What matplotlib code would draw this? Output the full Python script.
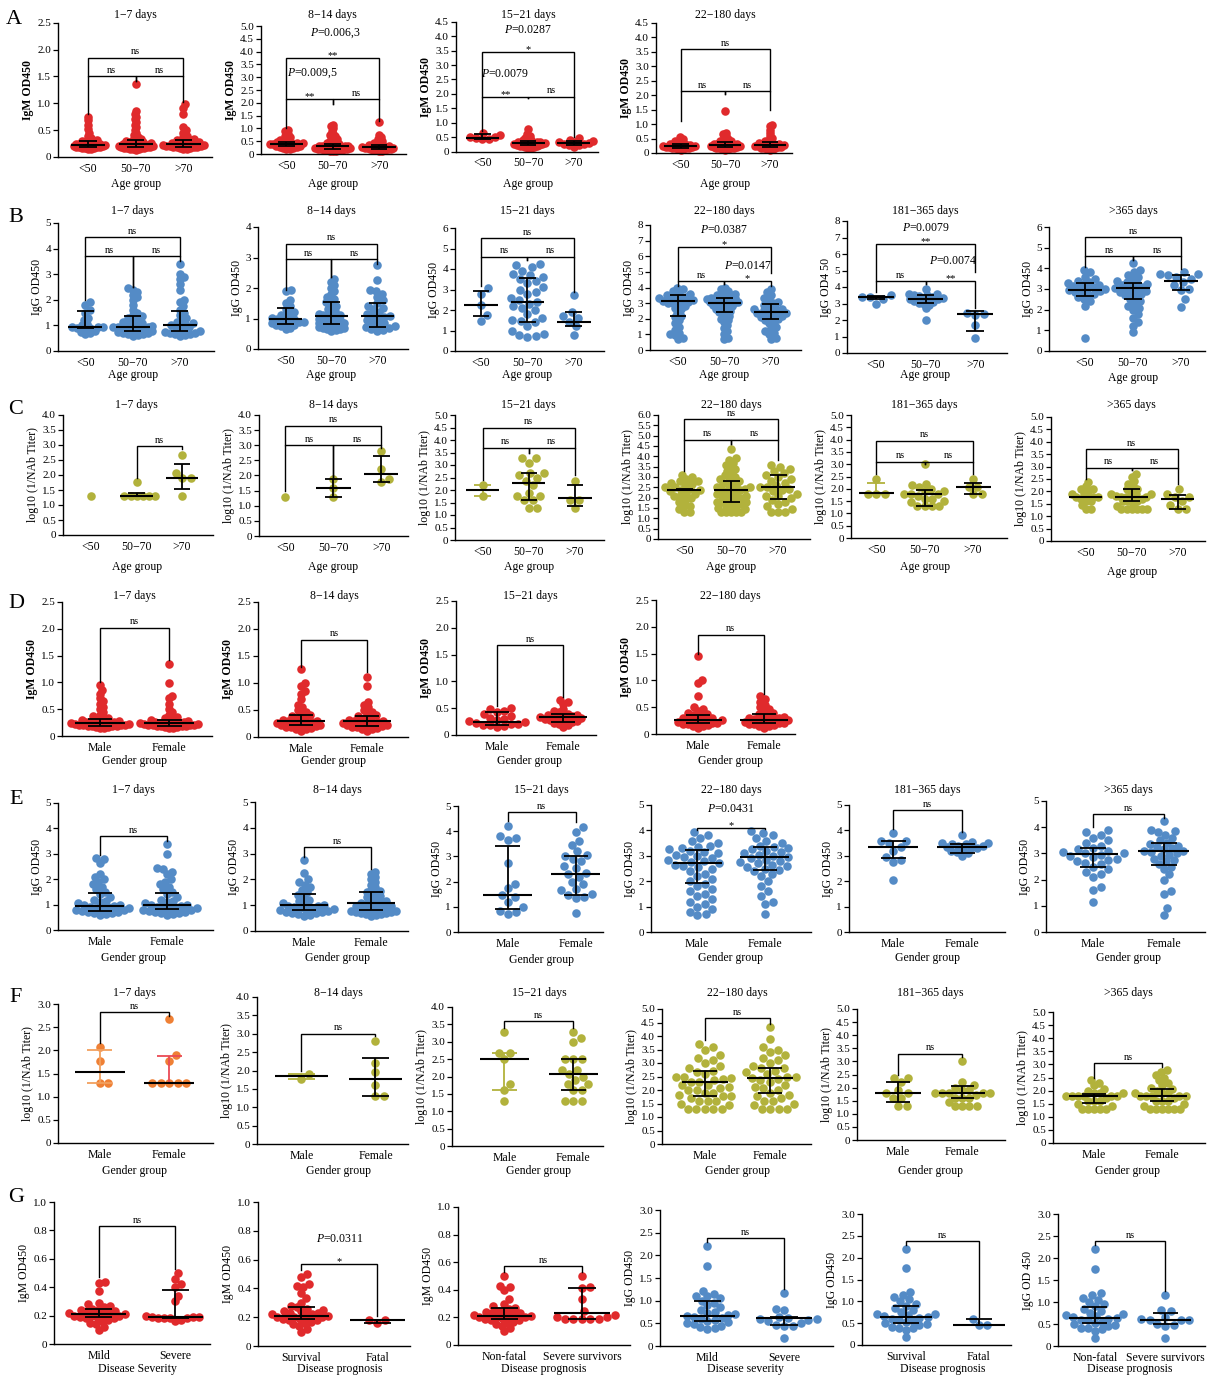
import numpy as np
import matplotlib
matplotlib.use("Agg")
import matplotlib.pyplot as plt

plt.rcParams.update({
    "font.family": ["Liberation Serif", "DejaVu Serif"],
    "mathtext.fontset": "custom",
    "mathtext.rm": "Liberation Serif",
    "mathtext.it": "Liberation Serif:italic",
    "axes.linewidth": 1.0,
})

# ---------------- categories ----------------
AGE = ["<50", "50\u221270", ">70"]
SEX = ["Male", "Female"]
SEV = ["Mild", "Severe"]
PRO = ["Survival", "Fatal"]
SUR = ["Non-fatal", "Severe survivors"]

# ---------------- Row A : IgM by age ----------------
A1_g0 = [0.14,0.15,0.16,0.17,0.17,0.18,0.18,0.19,0.19,0.2,0.2,0.21,0.21,0.22,0.22,0.23,0.23,0.24,0.24,0.25,0.25,0.26,0.27,0.28,0.29,0.3,0.31,0.33,0.36,0.4,0.45,0.52,0.6,0.68,0.75]
A1_g1 = [0.13,0.14,0.15,0.15,0.16,0.16,0.17,0.17,0.18,0.18,0.19,0.19,0.2,0.2,0.2,0.21,0.21,0.22,0.22,0.23,0.23,0.24,0.24,0.25,0.25,0.26,0.26,0.27,0.28,0.29,0.3,0.31,0.32,0.34,0.36,0.38,0.41,0.45,0.5,0.55,0.6,0.65,0.7,0.75,0.8,0.85,1.35]
A1_g2 = [0.14,0.15,0.16,0.17,0.18,0.18,0.19,0.19,0.2,0.2,0.21,0.21,0.22,0.22,0.23,0.23,0.24,0.24,0.25,0.26,0.27,0.28,0.29,0.3,0.31,0.32,0.34,0.37,0.4,0.45,0.5,0.55,0.8,0.92,0.98]
A1_med, A1_q1, A1_q3 = [0.23,0.24,0.24], [0.18,0.19,0.19], [0.29,0.31,0.32]

A2_g0 = [0.18,0.2,0.22,0.25,0.27,0.29,0.3,0.32,0.33,0.35,0.36,0.38,0.39,0.4,0.41,0.42,0.44,0.46,0.48,0.5,0.52,0.55,0.6,0.65,0.72,0.8,0.88,0.95]
A2_g1 = [0.1,0.12,0.13,0.14,0.15,0.16,0.17,0.18,0.19,0.2,0.2,0.21,0.22,0.23,0.24,0.25,0.26,0.27,0.28,0.29,0.3,0.3,0.31,0.32,0.33,0.35,0.37,0.39,0.42,0.45,0.48,0.52,0.56,0.6,0.65,0.7,0.75,0.8,0.9,1.0,1.08,1.15]
A2_g2 = [0.1,0.12,0.14,0.15,0.16,0.18,0.19,0.2,0.21,0.22,0.23,0.24,0.25,0.26,0.27,0.28,0.29,0.3,0.31,0.33,0.35,0.37,0.4,0.43,0.47,0.52,0.58,0.65,0.75,1.25]
A2_med, A2_q1, A2_q3 = [0.4,0.3,0.28], [0.3,0.2,0.2], [0.48,0.38,0.36]

A3_g0 = [0.65,0.58,0.52,0.5,0.47,0.45,0.44]
A3_g1 = [0.12,0.14,0.16,0.18,0.19,0.2,0.21,0.22,0.23,0.24,0.25,0.26,0.27,0.28,0.29,0.3,0.3,0.31,0.32,0.33,0.34,0.35,0.37,0.39,0.41,0.44,0.48,0.53,0.6,0.8]
A3_g2 = [0.18,0.22,0.24,0.26,0.28,0.3,0.32,0.35,0.38,0.42,0.46]
A3_med, A3_q1, A3_q3 = [0.48,0.3,0.3], [0.45,0.22,0.22], [0.6,0.38,0.38]

A4_g0 = [0.12,0.14,0.15,0.16,0.17,0.18,0.19,0.2,0.2,0.21,0.22,0.23,0.24,0.25,0.26,0.27,0.28,0.29,0.3,0.31,0.33,0.35,0.38,0.41,0.45,0.5,0.55]
A4_g1 = [0.12,0.14,0.15,0.16,0.17,0.18,0.19,0.2,0.21,0.22,0.23,0.24,0.25,0.26,0.27,0.28,0.29,0.3,0.31,0.32,0.34,0.36,0.38,0.4,0.43,0.46,0.5,0.55,0.6,0.65,0.7,1.45]
A4_g2 = [0.12,0.14,0.15,0.17,0.18,0.19,0.2,0.21,0.22,0.23,0.24,0.25,0.26,0.27,0.28,0.29,0.3,0.31,0.33,0.35,0.37,0.4,0.43,0.47,0.52,0.6,0.7,0.8,0.92,0.98]
A4_med, A4_q1, A4_q3 = [0.25,0.28,0.29], [0.18,0.2,0.2], [0.32,0.38,0.38]

# ---------------- Row B : IgG by age ----------------
B1_g0 = [0.65,0.7,0.75,0.8,0.85,0.88,0.9,0.92,0.95,0.95,1.0,1.05,1.2,1.3,1.5,1.6,1.8,1.9]
B1_g1 = [0.6,0.62,0.65,0.68,0.7,0.72,0.75,0.78,0.8,0.82,0.85,0.88,0.9,0.92,0.95,0.95,0.98,1.0,1.02,1.05,1.1,1.15,1.2,1.25,1.3,1.35,1.4,1.5,1.6,1.8,2.0,2.1,2.2,2.3,2.4,2.45]
B1_g2 = [0.6,0.62,0.65,0.68,0.7,0.72,0.75,0.78,0.8,0.85,0.9,0.95,1.0,1.02,1.05,1.1,1.15,1.2,1.3,1.4,1.5,1.6,1.75,1.9,2.0,2.4,2.6,2.8,2.9,3.0,3.4]
B1_med, B1_q1, B1_q3 = [0.95,0.95,1.02], [0.88,0.78,0.78], [1.55,1.35,1.55]

B2_g0 = [0.65,0.7,0.75,0.78,0.8,0.83,0.85,0.88,0.9,0.93,0.95,0.98,1.0,1.02,1.05,1.1,1.15,1.2,1.3,1.4,1.5,1.6,1.9,1.92]
B2_g1 = [0.6,0.62,0.64,0.66,0.68,0.7,0.72,0.74,0.76,0.78,0.8,0.82,0.84,0.86,0.88,0.9,0.92,0.95,0.98,1.0,1.02,1.05,1.08,1.1,1.12,1.15,1.2,1.25,1.3,1.35,1.4,1.45,1.5,1.55,1.6,1.65,1.7,1.8,1.9,2.0,2.1,2.2,2.3]
B2_g2 = [0.6,0.63,0.66,0.7,0.72,0.75,0.8,0.85,0.9,0.95,1.0,1.05,1.08,1.1,1.15,1.2,1.3,1.35,1.4,1.5,1.6,1.7,1.8,1.9,1.95,2.25,2.75]
B2_med, B2_q1, B2_q3 = [1.0,1.07,1.07], [0.83,0.83,0.72], [1.35,1.55,1.5]

B3_g0 = [3.05,2.8,2.25,1.75,1.45]
B3_g1 = [0.7,0.75,0.8,0.85,1.0,1.2,1.4,1.45,1.5,1.6,1.8,2.0,2.1,2.2,2.3,2.4,2.5,2.6,2.8,2.9,3.0,3.1,3.3,3.4,3.5,3.6,3.7,3.75,3.9,4.1,4.2,4.25]
B3_g2 = [2.75,1.9,1.7,1.6,1.42,1.2,0.8]
B3_med, B3_q1, B3_q3 = [2.22,2.4,1.42], [1.72,1.42,1.2], [2.92,3.55,1.9]

B4_g0 = [0.7,0.8,0.95,1.0,1.1,1.3,1.5,1.7,1.9,2.1,2.2,2.4,2.6,2.7,2.8,2.9,3.0,3.0,3.1,3.1,3.15,3.2,3.2,3.3,3.3,3.4,3.4,3.5,3.5,3.6,3.7,3.8,3.9,4.0]
B4_g1 = [0.7,0.8,1.0,1.2,1.4,1.6,1.8,1.9,2.0,2.1,2.2,2.3,2.4,2.45,2.5,2.6,2.65,2.7,2.75,2.8,2.85,2.9,2.95,3.0,3.0,3.05,3.1,3.1,3.15,3.2,3.2,3.25,3.3,3.3,3.35,3.4,3.45,3.5,3.55,3.6,3.7,3.8,3.9,4.0]
B4_g2 = [0.7,0.8,1.0,1.1,1.2,1.4,1.5,1.7,1.8,1.9,2.0,2.05,2.1,2.2,2.25,2.3,2.35,2.4,2.45,2.5,2.55,2.6,2.65,2.7,2.8,2.9,3.0,3.1,3.2,3.3,3.5,3.7,3.9]
B4_med, B4_q1, B4_q3 = [3.12,3.02,2.45], [2.15,2.42,1.98], [3.55,3.32,2.95]

B5_g0 = [3.5,3.42,3.38,3.3,3.0]
B5_g1 = [2.0,2.7,2.9,3.0,3.05,3.1,3.15,3.2,3.25,3.28,3.3,3.35,3.4,3.45,3.5,3.5,3.55,3.6,3.9]
B5_g2 = [2.45,2.38,2.3,1.7,0.9]
B5_med, B5_q1, B5_q3 = [3.38,3.28,2.35], [3.3,3.05,1.35], [3.45,3.5,2.55]

B6_g0 = [0.65,2.2,2.4,2.5,2.6,2.7,2.75,2.8,2.85,2.9,2.95,3.0,3.0,3.05,3.1,3.15,3.2,3.25,3.3,3.35,3.4,3.5,3.6,3.8,3.9]
B6_g1 = [0.9,1.2,1.4,1.6,1.8,2.0,2.1,2.2,2.3,2.4,2.5,2.6,2.7,2.75,2.8,2.85,2.9,2.95,3.0,3.05,3.1,3.15,3.2,3.25,3.3,3.35,3.4,3.5,3.6,3.7,3.8,3.9,4.25]
B6_g2 = [2.15,2.5,2.95,3.0,3.2,3.35,3.5,3.6,3.7,3.72,3.75,3.8]
B6_med, B6_q1, B6_q3 = [2.95,3.05,3.38], [2.65,2.5,2.95], [3.28,3.28,3.7]

# ---------------- Row C : NAb by age ----------------
C1_g0 = [1.3]
C1_g1 = [1.3,1.3,1.3,1.3,1.3,1.3,1.78]
C1_g2 = [2.68,2.08,1.9,1.9,1.3]
C1_med, C1_q1, C1_q3 = [None,1.3,1.9], [None,1.3,1.54], [None,1.4,2.38]

C2_g0 = [1.3]
C2_g1 = [1.9,1.6,1.3]
C2_g2 = [2.8,2.2,1.9,1.8]
C2_med, C2_q1, C2_q3 = [None,1.6,2.05], [None,1.3,1.8], [None,1.9,2.65]

C3_g0 = [2.2,1.78]
C3_g1 = [3.28,3.28,3.1,2.68,2.68,2.6,2.5,2.38,2.2,1.9,1.78,1.78,1.6,1.6,1.3,1.3]
C3_g2 = [2.38,1.6,1.6,1.3]
C3_med, C3_q1, C3_q3 = [2.0,2.3,1.7], [1.78,1.6,1.38], [2.2,2.68,2.22]

C4_g0 = [1.3,1.3,1.45,1.6,1.6,1.78,1.9,2.0,2.08,2.1,2.2,2.2,2.3,2.38,2.38,2.4,2.5,2.5,2.6,2.68,2.7,2.8,2.8,2.9,3.0,3.1]
C4_g1 = [1.3,1.3,1.3,1.3,1.3,1.45,1.5,1.6,1.6,1.6,1.7,1.78,1.78,1.8,1.9,1.9,2.0,2.0,2.08,2.1,2.2,2.2,2.2,2.3,2.38,2.38,2.4,2.5,2.5,2.5,2.6,2.68,2.7,2.8,2.8,2.9,3.0,3.0,3.1,3.2,3.3,3.4,3.5,3.6,3.7,3.8,3.9,4.35]
C4_g2 = [1.3,1.3,1.3,1.45,1.6,1.7,1.78,1.9,2.0,2.08,2.1,2.2,2.3,2.38,2.4,2.5,2.5,2.6,2.7,2.8,2.9,3.0,3.08,3.2,3.3,3.4,3.5,3.6]
C4_med, C4_q1, C4_q3 = [2.38,2.38,2.5], [2.36,1.78,1.95], [2.4,2.8,3.08]

C5_g0 = [2.38,1.78,1.78,1.78]
C5_g1 = [3.0,2.2,2.15,2.08,2.0,1.9,1.9,1.78,1.78,1.78,1.7,1.6,1.6,1.5,1.45,1.3,1.3,1.3,1.3]
C5_g2 = [2.38,2.08,2.08,1.78,1.78]
C5_med, C5_q1, C5_q3 = [1.83,1.78,2.08], [1.78,1.32,1.78], [2.25,1.95,2.22]

C6_g0 = [1.3,1.3,1.45,1.6,1.6,1.7,1.78,1.78,1.78,1.78,1.9,1.9,2.0,2.08,2.1,2.2,2.38]
C6_g1 = [1.3,1.3,1.3,1.3,1.3,1.3,1.4,1.5,1.6,1.6,1.6,1.7,1.78,1.78,1.78,1.78,1.8,1.9,1.9,1.9,2.0,2.08,2.1,2.2,2.3,2.4,2.6,2.7]
C6_g2 = [1.3,1.3,1.45,1.6,1.78,1.78,1.9,2.08]
C6_med, C6_q1, C6_q3 = [1.78,1.78,1.68], [1.77,1.6,1.3], [1.79,2.08,1.85]

# ---------------- Row D : IgM by gender ----------------
D1_g0 = [0.14,0.15,0.16,0.17,0.18,0.18,0.19,0.19,0.2,0.2,0.21,0.21,0.22,0.22,0.23,0.23,0.24,0.24,0.25,0.25,0.26,0.27,0.28,0.29,0.3,0.31,0.32,0.34,0.37,0.4,0.45,0.5,0.55,0.6,0.65,0.7,0.78,0.85,0.95]
D1_g1 = [0.14,0.15,0.16,0.17,0.18,0.18,0.19,0.19,0.2,0.2,0.21,0.21,0.22,0.22,0.23,0.23,0.24,0.24,0.25,0.25,0.26,0.27,0.28,0.29,0.3,0.32,0.34,0.36,0.4,0.45,0.5,0.6,0.7,0.75,0.98,1.35]
D1_med, D1_q1, D1_q3 = [0.24,0.24], [0.19,0.19], [0.32,0.3]

D2_g0 = [0.12,0.14,0.15,0.17,0.18,0.19,0.2,0.21,0.22,0.23,0.24,0.25,0.26,0.27,0.28,0.29,0.3,0.31,0.32,0.34,0.36,0.38,0.4,0.43,0.46,0.5,0.55,0.6,0.7,0.8,0.85,0.95,1.0,1.25]
D2_g1 = [0.12,0.14,0.15,0.17,0.18,0.19,0.2,0.21,0.22,0.23,0.24,0.25,0.26,0.27,0.28,0.29,0.3,0.31,0.32,0.34,0.36,0.38,0.4,0.43,0.46,0.5,0.55,0.6,0.65,0.95,1.12]
D2_med, D2_q1, D2_q3 = [0.29,0.29], [0.22,0.21], [0.41,0.38]

D3_g0 = [0.14,0.16,0.18,0.19,0.2,0.21,0.22,0.24,0.26,0.28,0.3,0.32,0.35,0.4,0.43,0.45,0.48,0.5]
D3_g1 = [0.15,0.18,0.2,0.22,0.24,0.26,0.27,0.28,0.29,0.3,0.31,0.32,0.33,0.34,0.35,0.36,0.37,0.38,0.4,0.42,0.45,0.48,0.58,0.62,0.65]
D3_med, D3_q1, D3_q3 = [0.24,0.33], [0.19,0.25], [0.43,0.39]

D4_g0 = [0.12,0.14,0.15,0.17,0.18,0.19,0.2,0.21,0.22,0.23,0.24,0.25,0.26,0.27,0.28,0.29,0.3,0.32,0.34,0.36,0.38,0.4,0.43,0.46,0.5,0.7,0.95,1.0,1.45]
D4_g1 = [0.12,0.14,0.15,0.17,0.18,0.19,0.2,0.21,0.22,0.23,0.24,0.25,0.26,0.27,0.28,0.29,0.3,0.31,0.33,0.35,0.37,0.4,0.43,0.46,0.5,0.55,0.6,0.65,0.7]
D4_med, D4_q1, D4_q3 = [0.26,0.27], [0.21,0.21], [0.35,0.38]

# ---------------- Row E : IgG by gender ----------------
E1_g0 = [0.6,0.62,0.65,0.68,0.7,0.72,0.75,0.78,0.8,0.82,0.85,0.88,0.9,0.92,0.95,0.98,1.0,1.05,1.1,1.15,1.2,1.3,1.4,1.5,1.6,1.7,1.8,1.9,2.0,2.1,2.2,2.65,2.8,2.85]
E1_g1 = [0.6,0.62,0.65,0.68,0.7,0.72,0.75,0.78,0.8,0.82,0.85,0.88,0.9,0.92,0.95,0.98,1.0,1.05,1.1,1.15,1.2,1.3,1.4,1.5,1.6,1.7,1.8,1.9,2.0,2.2,2.3,2.4,2.45,3.0,3.4]
E1_med, E1_q1, E1_q3 = [0.95,0.97], [0.75,0.82], [1.45,1.47]

E2_g0 = [0.6,0.62,0.65,0.68,0.7,0.72,0.75,0.78,0.8,0.82,0.85,0.88,0.9,0.92,0.95,0.98,1.0,1.05,1.1,1.15,1.2,1.3,1.4,1.5,1.6,1.7,1.8,1.9,2.0,2.25,2.75]
E2_g1 = [0.6,0.62,0.64,0.66,0.68,0.7,0.72,0.74,0.76,0.78,0.8,0.82,0.85,0.88,0.9,0.92,0.95,0.98,1.0,1.02,1.05,1.08,1.1,1.15,1.2,1.25,1.3,1.35,1.4,1.45,1.5,1.55,1.6,1.7,1.8,1.9,2.0,2.1,2.2,2.3]
E2_med, E2_q1, E2_q3 = [1.0,1.1], [0.8,0.83], [1.45,1.53]

E3_g0 = [4.22,3.8,3.72,3.65,2.72,1.9,1.75,1.45,1.4,1.2,0.98,0.85,0.8,0.72]
E3_g1 = [4.18,3.98,3.6,3.45,3.2,3.05,3.0,2.9,2.8,2.6,2.55,2.35,2.3,2.2,2.0,1.9,1.7,1.65,1.5,1.45,1.4,1.35,0.75]
E3_med, E3_q1, E3_q3 = [1.45,2.3], [0.9,1.48], [3.42,3.02]

E4_g0 = [0.65,0.7,0.8,0.9,1.0,1.1,1.2,1.3,1.4,1.5,1.6,1.7,1.8,1.9,2.0,2.1,2.2,2.3,2.4,2.5,2.55,2.6,2.65,2.7,2.75,2.8,2.85,2.9,2.95,3.0,3.05,3.1,3.15,3.2,3.25,3.3,3.35,3.4,3.5,3.6,3.7,3.8,3.95]
E4_g1 = [0.72,1.1,1.2,1.4,1.6,1.8,2.0,2.2,2.3,2.4,2.45,2.5,2.55,2.6,2.65,2.7,2.75,2.8,2.85,2.9,2.95,3.0,3.05,3.1,3.15,3.2,3.25,3.3,3.35,3.4,3.5,3.6,3.7,3.8,3.9,3.98]
E4_med, E4_q1, E4_q3 = [2.7,2.95], [1.92,2.45], [3.22,3.33]

E5_g0 = [3.9,3.6,3.6,3.5,3.35,3.2,2.95,2.85,2.75,2.05]
E5_g1 = [3.0,3.1,3.15,3.2,3.25,3.3,3.3,3.35,3.4,3.4,3.45,3.45,3.5,3.5,3.55,3.82]
E5_med, E5_q1, E5_q3 = [3.35,3.35], [2.92,3.12], [3.6,3.47]

E6_g0 = [1.15,1.6,1.7,2.1,2.2,2.3,2.4,2.5,2.6,2.65,2.7,2.75,2.8,2.85,2.9,2.95,3.0,3.0,3.05,3.1,3.15,3.2,3.3,3.4,3.5,3.6,3.7,3.8,3.9]
E6_g1 = [0.65,0.9,1.45,1.55,2.0,2.2,2.4,2.5,2.6,2.7,2.75,2.8,2.9,2.95,3.0,3.05,3.1,3.1,3.15,3.2,3.25,3.3,3.35,3.4,3.5,3.6,3.7,3.8,3.85,3.9,4.22]
E6_med, E6_q1, E6_q3 = [2.97,3.1], [2.5,2.57], [3.22,3.38]

# ---------------- Row F : NAb by gender ----------------
F1_g0 = [2.08,1.78,1.3,1.3]
F1_g1 = [2.68,1.9,1.78,1.3,1.3,1.3,1.3,1.3]
F1_med, F1_q1, F1_q3 = [1.54,1.3], [1.3,1.3], [2.0,1.87]

F2_g0 = [1.9,1.78]
F2_g1 = [2.8,2.2,1.95,1.6,1.3,1.3]
F2_med, F2_q1, F2_q3 = [1.84,1.76], [1.78,1.3], [1.9,2.35]

F3_g0 = [3.28,2.68,2.68,2.5,1.78,1.6,1.3]
F3_g1 = [3.28,3.1,2.98,2.5,2.5,2.5,2.2,2.2,2.08,2.0,1.9,1.78,1.78,1.6,1.6,1.3,1.3,1.3]
F3_med, F3_q1, F3_q3 = [2.5,2.08], [1.6,1.6], [2.68,2.5]

F4_g0 = [1.3,1.3,1.3,1.3,1.3,1.45,1.5,1.6,1.6,1.6,1.7,1.78,1.78,1.8,1.9,1.9,2.0,2.0,2.08,2.1,2.2,2.2,2.3,2.3,2.38,2.4,2.45,2.5,2.5,2.6,2.68,2.7,2.8,2.9,3.0,3.1,3.2,3.3,3.5,3.6,3.72]
F4_g1 = [1.3,1.3,1.3,1.3,1.45,1.5,1.6,1.6,1.7,1.78,1.8,1.9,2.0,2.08,2.1,2.2,2.3,2.38,2.4,2.45,2.5,2.5,2.6,2.68,2.7,2.8,2.8,2.9,3.0,3.1,3.2,3.3,3.4,3.5,3.6,3.9,4.32]
F4_med, F4_q1, F4_q3 = [2.3,2.45], [1.78,1.88], [2.72,2.8]

F5_g0 = [2.38,2.38,2.2,1.9,1.78,1.78,1.6,1.6,1.3,1.3]
F5_g1 = [3.0,2.2,2.1,2.0,1.9,1.9,1.78,1.78,1.78,1.78,1.78,1.7,1.6,1.6,1.6,1.45,1.3,1.3,1.3,1.3]
F5_med, F5_q1, F5_q3 = [1.78,1.78], [1.45,1.6], [2.22,2.08]

F6_g0 = [1.3,1.3,1.3,1.3,1.3,1.4,1.5,1.6,1.6,1.6,1.7,1.78,1.78,1.78,1.78,1.78,1.8,1.9,1.9,1.9,2.0,2.08,2.2,2.3,2.4]
F6_g1 = [1.3,1.3,1.3,1.3,1.3,1.3,1.4,1.5,1.6,1.6,1.6,1.7,1.78,1.78,1.78,1.78,1.8,1.9,1.9,1.9,2.0,2.08,2.1,2.2,2.3,2.4,2.5,2.6,2.7,2.8]
F6_med, F6_q1, F6_q3 = [1.78,1.78], [1.52,1.6], [1.88,2.08]

# ---------------- Row G : severity / prognosis ----------------
G1_g0 = [0.1,0.12,0.14,0.15,0.16,0.17,0.18,0.18,0.19,0.19,0.2,0.2,0.2,0.21,0.21,0.22,0.22,0.23,0.23,0.24,0.24,0.25,0.26,0.27,0.28,0.29,0.37,0.43,0.44]
G1_g1 = [0.5,0.46,0.42,0.4,0.34,0.3,0.2,0.19,0.19,0.19,0.18,0.18,0.18,0.18,0.17,0.16]
G1_med, G1_q1, G1_q3 = [0.21,0.19], [0.19,0.18], [0.25,0.38]

G2_g0 = [0.1,0.12,0.14,0.15,0.16,0.17,0.18,0.18,0.19,0.19,0.2,0.2,0.2,0.21,0.21,0.22,0.22,0.23,0.23,0.24,0.24,0.25,0.26,0.27,0.28,0.3,0.33,0.37,0.41,0.42,0.43,0.48,0.5]
G2_g1 = [0.18,0.18,0.16]
G2_med, G2_q1, G2_q3 = [0.21,0.18], [0.19,0.16], [0.27,0.18]

G3_g0 = [0.1,0.12,0.14,0.15,0.16,0.17,0.18,0.18,0.19,0.19,0.2,0.2,0.2,0.21,0.21,0.22,0.22,0.23,0.23,0.24,0.24,0.25,0.26,0.27,0.28,0.3,0.33,0.4,0.42,0.43,0.5]
G3_g1 = [0.5,0.42,0.41,0.33,0.25,0.22,0.2,0.19,0.19,0.19,0.19,0.19,0.2]
G3_med, G3_q1, G3_q3 = [0.21,0.23], [0.19,0.19], [0.27,0.41]

G4_g0 = [0.38,0.4,0.42,0.45,0.48,0.5,0.52,0.55,0.58,0.6,0.62,0.65,0.67,0.68,0.7,0.72,0.75,0.8,0.85,0.9,0.95,1.0,1.05,1.1,1.1,1.15,1.22,1.76,2.2]
G4_g1 = [1.17,0.82,0.8,0.65,0.62,0.6,0.6,0.58,0.55,0.5,0.47,0.45,0.45,0.18]
G4_med, G4_q1, G4_q3 = [0.67,0.61], [0.55,0.47], [1.0,0.65]

G5_g0 = [0.18,0.35,0.38,0.4,0.42,0.45,0.48,0.5,0.52,0.55,0.58,0.6,0.62,0.64,0.66,0.68,0.7,0.72,0.75,0.8,0.85,0.9,0.95,1.0,1.05,1.1,1.15,1.22,1.76,2.2]
G5_g1 = [0.6,0.45,0.45]
G5_med, G5_q1, G5_q3 = [0.64,0.46], [0.5,0.45], [0.9,0.6]

G6_g0 = [0.18,0.35,0.38,0.4,0.42,0.45,0.48,0.5,0.52,0.55,0.58,0.6,0.62,0.64,0.66,0.68,0.7,0.72,0.75,0.8,0.85,0.9,0.95,1.0,1.05,1.1,1.15,1.2,1.76,2.2]
G6_g1 = [1.17,0.82,0.8,0.65,0.62,0.6,0.6,0.58,0.5,0.47,0.45,0.18]
G6_med, G6_q1, G6_q3 = [0.64,0.6], [0.53,0.5], [0.89,0.76]

# ---------------- significance annotations ----------------
# (group i, group j, bracket height, left leg end, right leg end, label)
A1_br = [(0,1,1.5,0.8,1.42,"ns"), (1,2,1.5,1.42,1.02,"ns"), (0,2,1.85,1.5,1.5,"ns")]
A2_br = [(0,1,2.15,1.0,1.95,"**"), (1,2,2.15,1.95,1.3,"ns"), (0,2,3.75,2.15,2.15,"**")]
A3_br = [(0,1,1.9,0.72,1.85,"**"), (1,2,1.9,1.85,0.5,"ns"), (0,2,3.45,1.9,1.9,"*")]
A4_br = [(0,1,2.15,1.1,2.05,"ns"), (1,2,2.15,2.05,1.5,"ns"), (0,2,3.6,2.15,2.15,"ns")]
B1_br = [(0,1,3.7,2.0,2.5,"ns"), (1,2,3.7,2.5,3.5,"ns"), (0,2,4.45,3.7,3.7,"ns")]
B2_br = [(0,1,2.95,1.95,2.35,"ns"), (1,2,2.95,2.35,2.8,"ns"), (0,2,3.45,2.95,2.95,"ns")]
B3_br = [(0,1,4.6,3.15,4.45,"ns"), (1,2,4.6,4.45,2.9,"ns"), (0,2,5.5,4.6,4.6,"ns")]
B4_br = [(0,1,4.4,4.1,4.2,"ns"), (1,2,4.4,4.2,4.1,"*"), (0,2,6.6,4.4,4.95,"*")]
B5_br = [(0,1,4.35,3.7,4.2,"ns"), (1,2,4.35,4.2,2.7,"**"), (0,2,6.6,4.35,4.9,"**")]
B6_br = [(0,1,4.6,4.05,4.4,"ns"), (1,2,4.6,4.4,3.95,"ns"), (0,2,5.5,4.6,4.6,"ns")]
C1_br = [(1,2,2.95,1.9,2.85,"ns")]
C2_br = [(0,1,3.0,1.5,1.95,"ns"), (1,2,3.0,1.95,2.9,"ns"), (0,2,3.65,3.0,3.0,"ns")]
C3_br = [(0,1,3.7,2.4,3.5,"ns"), (1,2,3.7,3.5,2.6,"ns"), (0,2,4.5,3.7,3.7,"ns")]
C4_br = [(0,1,4.8,3.3,4.6,"ns"), (1,2,4.8,4.6,3.8,"ns"), (0,2,5.8,4.8,4.8,"ns")]
C5_br = [(0,1,3.1,2.6,3.0,"ns"), (1,2,3.1,3.0,2.6,"ns"), (0,2,3.95,3.1,3.1,"ns")]
C6_br = [(0,1,2.95,2.5,2.85,"ns"), (1,2,2.95,2.85,2.3,"ns"), (0,2,3.7,2.95,2.95,"ns")]
D1_br = [(0,1,2.02,1.0,1.42,"ns")]
D2_br = [(0,1,1.8,1.3,1.2,"ns")]
D3_br = [(0,1,1.67,0.55,0.7,"ns")]
D4_br = [(0,1,1.85,1.5,0.75,"ns")]
E1_br = [(0,1,3.7,2.95,3.5,"ns")]
E2_br = [(0,1,3.25,2.85,2.4,"ns")]
E3_br = [(0,1,4.75,4.4,4.35,"ns")]
E4_br = [(0,1,4.1,4.0,4.05,"*")]
E5_br = [(0,1,4.8,4.05,3.95,"ns")]
E6_br = [(0,1,4.5,4.0,4.35,"ns")]
F1_br = [(0,1,2.82,2.15,2.75,"ns")]
F2_br = [(0,1,3.0,2.0,2.95,"ns")]
F3_br = [(0,1,3.6,3.4,3.4,"ns")]
F4_br = [(0,1,4.65,3.85,4.45,"ns")]
F5_br = [(0,1,3.3,2.5,3.15,"ns")]
F6_br = [(0,1,3.05,2.5,2.9,"ns")]
G1_br = [(0,1,0.83,0.47,0.53,"ns")]
G2_br = [(0,1,0.57,0.53,0.21,"*")]
G3_br = [(0,1,0.57,0.53,0.53,"ns")]
G4_br = [(0,1,2.38,2.3,1.25,"ns")]
G5_br = [(0,1,2.38,2.3,0.65,"ns")]
G6_br = [(0,1,2.38,2.3,1.25,"ns")]

# P-value texts: (x in category units, y, text)
A2_pt = [(0.55,3.15,"0.009,5"), (1.05,4.72,"0.006,3")]
A3_pt = [(0.5,2.7,"0.0079"), (1.0,4.22,"0.0287")]
B4_pt = [(1.0,7.7,"0.0387"), (1.5,5.35,"0.0147")]
B5_pt = [(1.0,7.55,"0.0079"), (1.55,5.6,"0.0074")]
E4_pt = [(0.5,4.85,"0.0431")]
G2_pt = [(0.5,0.74,"0.0311")]

# ---------------- styling ----------------
RED = "#e02a2c"
BLUE = "#548bc6"
OLIVE = "#b2b23c"
ORANGE = "#ef8035"

W, H = 1208, 1378
fig = plt.figure(figsize=(W / 100, H / 100), dpi=100)


def swarm(yp, d, maxw):
    n = len(yp)
    xs = np.zeros(n)
    order = np.argsort(yp, kind="stable")
    for f in (1.0, 0.85, 0.72, 0.6, 0.5, 0.42, 0.35, 0.29, 0.24, 0.2):
        dd = d * f
        px, py = [], []
        for k in order:
            y = yp[k]
            ivs = []
            for xj, yj in zip(px, py):
                dy = abs(y - yj)
                if dy < dd:
                    dx = np.sqrt(dd * dd - dy * dy)
                    ivs.append((xj - dx, xj + dx))
            cands = [0.0] + [a for a, b in ivs] + [b for a, b in ivs]
            cands.sort(key=lambda c: (round(abs(c), 6), -c))
            pick = 0.0
            for c in cands:
                if all(not (a + 1e-6 < c < b - 1e-6) for a, b in ivs):
                    pick = c
                    break
            xs[k] = pick
            px.append(pick)
            py.append(y)
        if np.max(np.abs(xs)) <= maxw:
            break
    return np.clip(xs, -maxw, maxw)


def fmt_tick(v, step):
    if abs(v) < 1e-9:
        return "0"
    if step >= 1:
        return "%d" % round(v)
    return "%.1f" % v


def draw(p):
    x0, y0, x1, y1 = p["box"]
    xl, xr = p["xl"], p["xr"]
    cats = p["cats"]
    n = len(cats)
    ax = fig.add_axes([x0 / W, 1 - y1 / H, (x1 - x0) / W, (y1 - y0) / H])
    ax.set_xlim(-xl, n - 1 + xr)
    ax.set_ylim(0, p["ymax"])
    ax.patch.set_alpha(0)
    sp = (x1 - x0) / (n - 1 + xl + xr)
    ppu = (y1 - y0) / p["ymax"]
    cols = p["colors"]
    for i, g in enumerate(p["groups"]):
        v = np.asarray(g, float)
        xs = swarm(v * ppu, 8.5, 0.45 * sp) / sp
        ax.scatter(i + xs, v, s=38, color=cols[i], linewidths=0, zorder=2, clip_on=False)
    ecol = p.get("ecol", ["k"] * n)
    mw = 0.36
    cw = 0.18
    for i in range(n):
        m = p["med"][i]
        if m is None:
            continue
        a, b = p["q1"][i], p["q3"][i]
        if b - a > 1e-6:
            ax.plot([i, i], [a, b], color=ecol[i], lw=1.3, zorder=3, solid_capstyle="butt")
            for q in (a, b):
                ax.plot([i - cw, i + cw], [q, q], color=ecol[i], lw=1.3, zorder=3, solid_capstyle="butt")
        ax.plot([i - mw, i + mw], [m, m], color="k", lw=1.5, zorder=4, solid_capstyle="butt")
    for (i, j, y, yi, yj, lab) in p["br"]:
        ax.plot([i, i, j, j], [yi, y, y, yj], color="k", lw=1.0, zorder=3, clip_on=False,
                solid_joinstyle="miter")
        off = 1.0 if lab == "ns" else -1.5
        ax.annotate(lab, xy=((i + j) / 2, y), xytext=(0, off), textcoords="offset points",
                    ha="center", va="bottom", fontsize=7.5, annotation_clip=False)
    for (x, y, t) in p.get("pt", []):
        ax.text(x, y, r"$\it{P}$=" + t, ha="center", va="center", fontsize=8.5, clip_on=False)
    ticks = np.arange(0, p["ymax"] + p["step"] / 2, p["step"])
    ax.set_yticks(ticks)
    ax.set_yticklabels([fmt_tick(t, p["step"]) for t in ticks])
    ax.set_xticks(range(n))
    ax.set_xticklabels(cats)
    for s in ("top", "right"):
        ax.spines[s].set_visible(False)
    ax.tick_params(axis="y", direction="out", length=3.5, width=0.9, labelsize=8, pad=1.5)
    ax.tick_params(axis="x", length=0, labelsize=8.5, pad=4)
    ax.set_ylabel(p["ylabel"], fontsize=8.5, labelpad=2, fontweight=p.get("yw", "normal"))
    cx = x0 + (xl + (n - 1) / 2) * sp
    if p.get("title"):
        fig.text(cx / W, 1 - p["ty"] / H, p["title"], ha="center", va="center", fontsize=8.5)
    fig.text(cx / W, 1 - p["xy"] / H, p["xlabel"], ha="center", va="center", fontsize=8.5)


def P(box, xl, xr, ymax, step, ylabel, title, ty, cats, xlabel, xy, groups, med, q1, q3,
      color, br, pt=None, ecol=None, colors=None, yw="normal"):
    d = dict(box=box, xl=xl, xr=xr, ymax=ymax, step=step, ylabel=ylabel, title=title, ty=ty,
             cats=cats, xlabel=xlabel, xy=xy, groups=groups, med=med, q1=q1, q3=q3, br=br,
             pt=pt or [], colors=colors or [color] * len(cats), yw=yw)
    if ecol:
        d["ecol"] = ecol
    return d


IGM, IGG, NAB = "IgM OD450", "IgG OD450", "log10 (1/NAb Titer)"
AG, GG = "Age group", "Gender group"

panels = [
    P((58, 22.7, 212, 157), 0.63, 0.6, 2.5, 0.5, IGM, "1\u22127 days", 15, AGE, AG, 184,
      [A1_g0, A1_g1, A1_g2], A1_med, A1_q1, A1_q3, RED, A1_br, yw="bold"),
    P((261, 26, 406, 154), 0.55, 0.58, 5.0, 0.5, IGM, "8\u221214 days", 15, AGE, AG, 184,
      [A2_g0, A2_g1, A2_g2], A2_med, A2_q1, A2_q3, RED, A2_br, A2_pt, yw="bold"),
    P((456, 21.7, 598, 151.7), 0.58, 0.53, 4.5, 0.5, IGM, "15\u221221 days", 15, AGE, AG, 184,
      [A3_g0, A3_g1, A3_g2], A3_med, A3_q1, A3_q3, RED, A3_br, A3_pt, yw="bold"),
    P((656, 23, 792, 153), 0.55, 0.5, 4.5, 0.5, IGM, "22\u2212180 days", 15, AGE, AG, 184,
      [A4_g0, A4_g1, A4_g2], A4_med, A4_q1, A4_q3, RED, A4_br, yw="bold"),

    P((58, 223, 214, 351), 0.58, 0.72, 5, 1, IGG, "1\u22127 days", 211, AGE, AG, 375,
      [B1_g0, B1_g1, B1_g2], B1_med, B1_q1, B1_q3, BLUE, B1_br),
    P((258, 227, 408, 349), 0.6, 0.67, 4, 1, IGG, "8\u221214 days", 211, AGE, AG, 375,
      [B2_g0, B2_g1, B2_g2], B2_med, B2_q1, B2_q3, BLUE, B2_br),
    P((455, 228, 604, 351), 0.56, 0.65, 6, 1, IGG, "15\u221221 days", 211, AGE, AG, 375,
      [B3_g0, B3_g1, B3_g2], B3_med, B3_q1, B3_q3, BLUE, B3_br),
    P((650, 225, 801, 350), 0.6, 0.65, 8, 1, IGG, "22\u2212180 days", 211, AGE, AG, 375,
      [B4_g0, B4_g1, B4_g2], B4_med, B4_q1, B4_q3, BLUE, B4_br, B4_pt),
    P((847, 221, 1007, 353), 0.58, 0.64, 8, 1, "IgG OD4 50", "181\u2212365 days", 211, AGE, AG, 375,
      [B5_g0, B5_g1, B5_g2], B5_med, B5_q1, B5_q3, BLUE, B5_br, B5_pt),
    P((1049, 227, 1205, 351), 0.75, 0.5, 6, 1, IGG, ">365 days", 211, AGE, AG, 378,
      [B6_g0, B6_g1, B6_g2], B6_med, B6_q1, B6_q3, BLUE, B6_br),

    P((63, 415, 213, 535), 0.62, 0.68, 4.0, 0.5, NAB, "1\u22127 days", 405, AGE, AG, 567,
      [C1_g0, C1_g1, C1_g2], C1_med, C1_q1, C1_q3, OLIVE, C1_br),
    P((259, 415, 408, 536), 0.55, 0.56, 4.0, 0.5, NAB, "8\u221214 days", 405, AGE, AG, 567,
      [C2_g0, C2_g1, C2_g2], C2_med, C2_q1, C2_q3, OLIVE, C2_br),
    P((455, 415, 604, 540), 0.6, 0.63, 5.0, 0.5, NAB, "15\u221221 days", 405, AGE, AG, 567,
      [C3_g0, C3_g1, C3_g2], C3_med, C3_q1, C3_q3, OLIVE, C3_br, ecol=[OLIVE, "k", "k"]),
    P((658, 415, 810, 539), 0.56, 0.68, 6.0, 0.5, NAB, "22\u2212180 days", 405, AGE, AG, 567,
      [C4_g0, C4_g1, C4_g2], C4_med, C4_q1, C4_q3, OLIVE, C4_br),
    P((851, 415, 1007, 538), 0.52, 0.7, 5.0, 0.5, NAB, "181\u2212365 days", 405, AGE, AG, 567,
      [C5_g0, C5_g1, C5_g2], C5_med, C5_q1, C5_q3, OLIVE, C5_br, ecol=[OLIVE, "k", "k"]),
    P((1051, 417, 1205, 541), 0.75, 0.59, 5.0, 0.5, NAB, ">365 days", 405, AGE, AG, 572,
      [C6_g0, C6_g1, C6_g2], C6_med, C6_q1, C6_q3, OLIVE, C6_br),

    P((62, 602, 212, 736), 0.55, 0.62, 2.5, 0.5, IGM, "1\u22127 days", 596, SEX, GG, 761,
      [D1_g0, D1_g1], D1_med, D1_q1, D1_q3, RED, D1_br, yw="bold"),
    P((258, 602, 408, 737), 0.65, 0.62, 2.5, 0.5, IGM, "8\u221214 days", 596, SEX, GG, 761,
      [D2_g0, D2_g1], D2_med, D2_q1, D2_q3, RED, D2_br, yw="bold"),
    P((456, 601, 596, 735), 0.62, 0.5, 2.5, 0.5, IGM, "15\u221221 days", 596, SEX, GG, 761,
      [D3_g0, D3_g1], D3_med, D3_q1, D3_q3, RED, D3_br, yw="bold"),
    P((656, 600, 795, 734), 0.63, 0.47, 2.5, 0.5, IGM, "22\u2212180 days", 596, SEX, GG, 761,
      [D4_g0, D4_g1], D4_med, D4_q1, D4_q3, RED, D4_br, yw="bold"),

    P((58, 803, 213, 930), 0.62, 0.69, 5, 1, IGG, "1\u22127 days", 790, SEX, GG, 958,
      [E1_g0, E1_g1], E1_med, E1_q1, E1_q3, BLUE, E1_br),
    P((255, 802, 408, 931), 0.73, 0.55, 5, 1, IGG, "8\u221214 days", 790, SEX, GG, 958,
      [E2_g0, E2_g1], E2_med, E2_q1, E2_q3, BLUE, E2_br),
    P((458, 806, 603, 932), 0.73, 0.4, 5, 1, IGG, "15\u221221 days", 790, SEX, GG, 960,
      [E3_g0, E3_g1], E3_med, E3_q1, E3_q3, BLUE, E3_br),
    P((651, 805, 811, 932), 0.68, 0.68, 5, 1, IGG, "22\u2212180 days", 790, SEX, GG, 958,
      [E4_g0, E4_g1], E4_med, E4_q1, E4_q3, BLUE, E4_br, E4_pt),
    P((849, 805, 1005, 932), 0.64, 0.62, 5, 1, IGG, "181\u2212365 days", 790, SEX, GG, 958,
      [E5_g0, E5_g1], E5_med, E5_q1, E5_q3, BLUE, E5_br),
    P((1046, 801, 1205, 932), 0.66, 0.58, 5, 1, IGG, ">365 days", 790, SEX, GG, 958,
      [E6_g0, E6_g1], E6_med, E6_q1, E6_q3, BLUE, E6_br),

    P((58, 1004, 213, 1143), 0.6, 0.63, 3.0, 0.5, NAB, "1\u22127 days", 993, SEX, GG, 1171,
      [F1_g0, F1_g1], F1_med, F1_q1, F1_q3, ORANGE, F1_br, ecol=["#f2a05e", "#ea4a55"]),
    P((257, 997, 408, 1144), 0.6, 0.44, 4.0, 0.5, NAB, "8\u221214 days", 993, SEX, GG, 1171,
      [F2_g0, F2_g1], F2_med, F2_q1, F2_q3, OLIVE, F2_br, ecol=[OLIVE, "k"]),
    P((452, 1007, 603, 1146), 0.76, 0.43, 4.0, 0.5, NAB, "15\u221221 days", 993, SEX, GG, 1171,
      [F3_g0, F3_g1], F3_med, F3_q1, F3_q3, OLIVE, F3_br, ecol=[OLIVE, "k"]),
    P((662, 1009, 811, 1144), 0.66, 0.63, 5.0, 0.5, NAB, "22\u2212180 days", 993, SEX, GG, 1171,
      [F4_g0, F4_g1], F4_med, F4_q1, F4_q3, OLIVE, F4_br),
    P((857, 1009, 1005, 1140), 0.64, 0.67, 5.0, 0.5, NAB, "181\u2212365 days", 993, SEX, GG, 1171,
      [F5_g0, F5_g1], F5_med, F5_q1, F5_q3, OLIVE, F5_br),
    P((1053, 1012, 1205, 1143), 0.6, 0.63, 5.0, 0.5, NAB, ">365 days", 993, SEX, GG, 1171,
      [F6_g0, F6_g1], F6_med, F6_q1, F6_q3, OLIVE, F6_br),

    P((54, 1202, 210, 1344), 0.58, 0.45, 1.0, 0.2, IGM, None, 0, SEV, "Disease Severity", 1369,
      [G1_g0, G1_g1], G1_med, G1_q1, G1_q3, RED, G1_br),
    P((258, 1202, 410, 1346), 0.57, 0.43, 1.0, 0.2, IGM, None, 0, PRO, "Disease prognosis", 1369,
      [G2_g0, G2_g1], G2_med, G2_q1, G2_q3, RED, G2_br, G2_pt),
    P((458, 1207, 630, 1345), 0.6, 0.62, 1.0, 0.2, IGM, None, 0, SUR, "Disease prognosis", 1369,
      [G3_g0, G3_g1], G3_med, G3_q1, G3_q3, RED, G3_br),
    P((660, 1210, 833, 1346), 0.62, 0.64, 3.0, 0.5, IGG, None, 0, SEV, "Disease severity", 1369,
      [G4_g0, G4_g1], G4_med, G4_q1, G4_q3, BLUE, G4_br),
    P((862, 1214, 1011, 1345), 0.6, 0.44, 3.0, 0.5, IGG, None, 0, PRO, "Disease prognosis", 1369,
      [G5_g0, G5_g1], G5_med, G5_q1, G5_q3, BLUE, G5_br),
    P((1058, 1214, 1205, 1346), 0.52, 0.56, 3.0, 0.5, "IgG OD 450", None, 0, SUR, "Disease prognosis", 1369,
      [G6_g0, G6_g1], G6_med, G6_q1, G6_q3, BLUE, G6_br),
]

for p in panels:
    draw(p)

for lab, (x, y) in zip("ABCDEFG", [(14, 20), (16, 218), (16, 410), (16, 604), (16, 800), (16, 997), (16, 1197)]):
    fig.text(x / W, 1 - y / H, lab, ha="center", va="center", fontsize=16)

fig.savefig("out.png", dpi=100)
